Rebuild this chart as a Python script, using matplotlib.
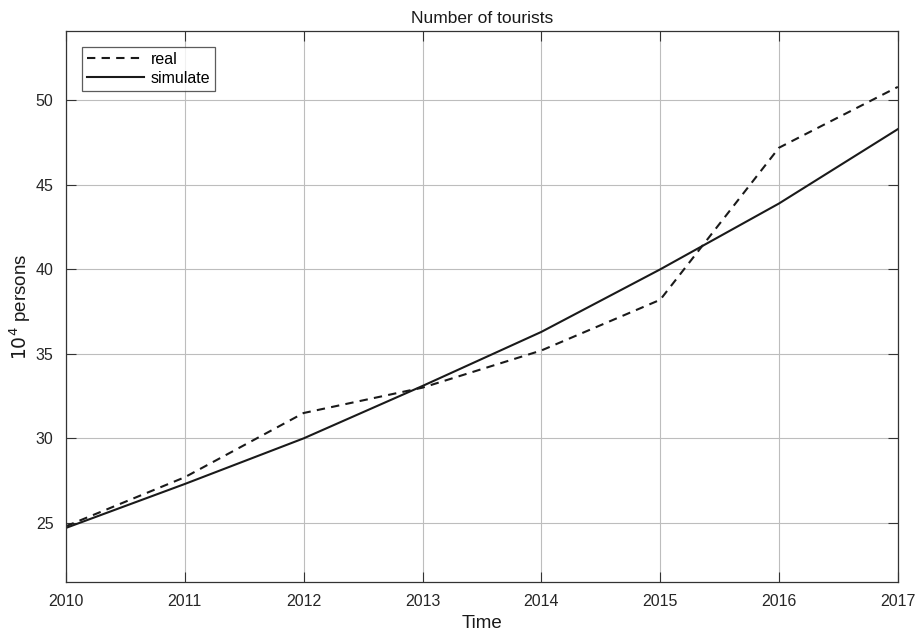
import matplotlib
matplotlib.use("Agg")
import matplotlib.pyplot as plt

plt.rcParams['font.family'] = ['Liberation Sans', 'DejaVu Sans']

years = [2010, 2011, 2012, 2013, 2014, 2015, 2016, 2017]
real = [24.8, 27.7, 31.5, 33.0, 35.2, 38.2, 47.2, 50.8]
simulate = [24.7, 27.3, 30.0, 33.1, 36.3, 40.0, 43.9, 48.3]
yticks = [25, 30, 35, 40, 45, 50]

fig = plt.figure(figsize=(9.19, 6.35), dpi=100)
ax = fig.add_axes([0.0718, 0.0835, 0.9052, 0.8675])

ax.plot(years, real, linestyle=(0, (4, 3)), color='#1a1a1a', linewidth=1.5, label='real')
ax.plot(years, simulate, linestyle='-', color='#1a1a1a', linewidth=1.5, label='simulate')

ax.set_xlim(2010, 2017)
ax.set_ylim(21.5, 54.1)
ax.set_xticks(years)
ax.set_yticks(yticks)
ax.grid(True, color='#bdbdbd', linewidth=0.8)
ax.set_axisbelow(True)

for sp in ax.spines.values():
    sp.set_color('#333333')
    sp.set_linewidth(0.9)
ax.tick_params(direction='in', length=7, width=0.8, colors='#333333',
               labelsize=11.5, labelcolor='#262626', top=True, right=True, pad=9)

ax.set_title('Number of tourists', fontsize=12.5, color='#1a1a1a', pad=6)
ax.set_xlabel('Time', fontsize=13.5, color='#1a1a1a', labelpad=4)
ax.set_ylabel('$10^4$ persons', fontsize=13.5, color='#1a1a1a', labelpad=2)

leg = ax.legend(loc='upper left', fontsize=11.5, frameon=True, fancybox=False,
                handlelength=3.6, borderaxespad=1.0, borderpad=0.3,
                labelspacing=0.25, handletextpad=0.4)
leg.get_frame().set_edgecolor('#333333')
leg.get_frame().set_linewidth(0.9)

fig.savefig('out.png', dpi=100)
